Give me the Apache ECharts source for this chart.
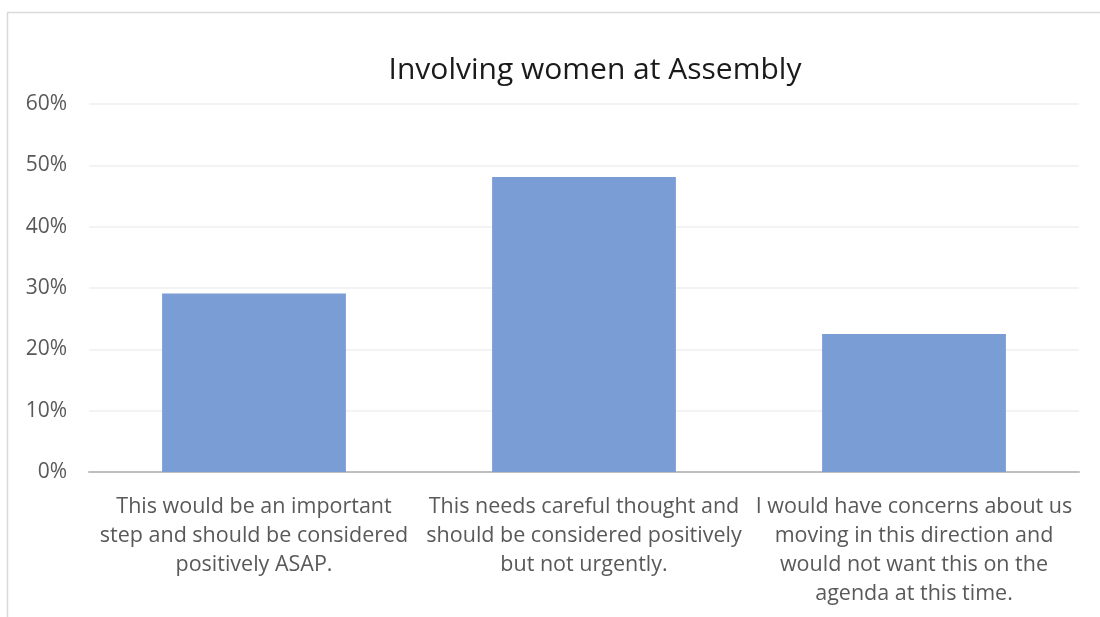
<!DOCTYPE html>
<html>
<head>
<meta charset="utf-8">
<script src="https://cdn.jsdelivr.net/npm/echarts@6/dist/echarts.min.js"></script>
<style>
html,body{margin:0;padding:0;background:#fff;}
#chart{width:1100px;height:617px;}
</style>
</head>
<body>
<div id="chart"></div>
<script>
const titleText = 'Involving women at Assembly';
const categories = [
  'This would be an important\nstep and should be considered\npositively ASAP.',
  'This needs careful thought and\nshould be considered positively\nbut not urgently.',
  'I would have concerns about us\nmoving in this direction and\nwould not want this on the\nagenda at this time.'
];
const values = [29.1, 48.1, 22.5];
const yTicks = { min: 0, max: 60, interval: 10 };

const chart = echarts.init(document.getElementById('chart'));
chart.setOption({
  animation: false,
  backgroundColor: '#ffffff',
  graphic: [
    {
      type: 'rect',
      shape: { x: 7.5, y: 12.5, width: 1300, height: 800 },
      style: { fill: 'none', stroke: '#d9d9d9', lineWidth: 1.5 },
      silent: true
    },
    {
      type: 'text',
      x: 595, y: 70,
      style: {
        text: titleText,
        fontFamily: 'Open Sans',
        fontSize: 30,
        fill: '#1a1a1a',
        textAlign: 'center',
        textVerticalAlign: 'middle'
      }
    }
  ],
  grid: { left: 89, right: 21, top: 104, bottom: 145, containLabel: false },
  xAxis: {
    type: 'category',
    data: categories,
    axisLine: { lineStyle: { color: '#bfbfbf', width: 2 } },
    axisTick: { show: false },
    axisLabel: {
      interval: 0,
      margin: 20,
      fontFamily: 'Open Sans',
      fontSize: 21.5,
      lineHeight: 29,
      color: '#595959',
      align: 'center'
    }
  },
  yAxis: {
    type: 'value',
    min: yTicks.min,
    max: yTicks.max,
    interval: yTicks.interval,
    axisLine: { show: false },
    axisTick: { show: false },
    splitLine: { lineStyle: { color: '#efefef', width: 1.5 } },
    axisLabel: {
      formatter: '{value}%',
      margin: 22,
      fontFamily: 'Open Sans',
      fontSize: 21,
      color: '#595959'
    }
  },
  series: [{
    type: 'bar',
    data: values,
    barWidth: '55.7%',
    itemStyle: { color: '#7b9dd5' }
  }]
});
</script>
</body>
</html>
